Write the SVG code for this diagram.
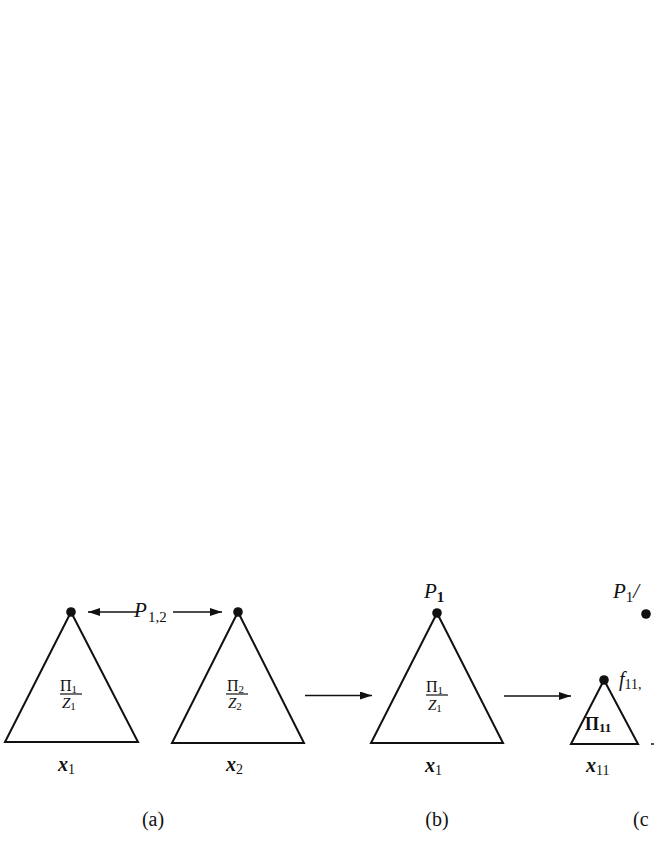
<svg xmlns="http://www.w3.org/2000/svg" width="654" height="846" viewBox="0 0 654 846">
<defs>
<style>
.tri{fill:none;stroke:#111;stroke-width:2;stroke-linejoin:miter}
.dot{fill:#111}
.conn{stroke:#111;stroke-width:1.4;fill:none}
.it{font-family:"Liberation Serif",serif;font-style:italic;fill:#111}
.rm{font-family:"Liberation Serif",serif;fill:#111}
.bi{font-family:"Liberation Serif",serif;font-style:italic;font-weight:bold;fill:#111}
.bd{font-family:"Liberation Serif",serif;font-weight:bold;fill:#111}
.frac{stroke:#111;stroke-width:1.2}
</style>
<marker id="ah" viewBox="0 0 12 8" refX="12" refY="4" markerWidth="12" markerHeight="8" markerUnits="userSpaceOnUse" orient="auto-start-reverse">
<path d="M0,0 L12,4 L0,8 Z" fill="#111"/>
</marker>
</defs>
<rect width="654" height="846" fill="#fff"/>

<g id="connectors">
<line class="conn" x1="138" y1="612" x2="88" y2="612" marker-end="url(#ah)"/>
<line class="conn" x1="173" y1="612" x2="222" y2="612" marker-end="url(#ah)"/>
<line class="conn" x1="305" y1="695.5" x2="372" y2="695.5" stroke-width="1.1" marker-end="url(#ah)"/>
<line class="conn" x1="504" y1="696" x2="571" y2="696" stroke-width="1.1" marker-end="url(#ah)"/>
</g>

<g id="label-p12">
<text class="it" x="134" y="617" font-size="21">P</text>
<text class="rm" x="148" y="622" font-size="15">1,2</text>
</g>

<g id="tree-x1-a">
<polygon class="tri" points="71,612 5,742 138,742"/>
<circle class="dot" cx="71" cy="612" r="4.8"/>
<text class="rm" x="60" y="691" font-size="16">Π<tspan font-size="11" dy="2">1</tspan></text>
<line class="frac" x1="60" y1="694" x2="82" y2="694"/>
<text class="it" x="62" y="708" font-size="15">Z<tspan class="rm" font-style="normal" font-size="11" dy="2">1</tspan></text>
<text class="bi" x="58" y="771" font-size="20">x<tspan class="rm" font-style="normal" font-weight="normal" font-size="14" dy="3">1</tspan></text>
</g>

<g id="tree-x2-a">
<polygon class="tri" points="238,612 172,743 304,743"/>
<circle class="dot" cx="238" cy="612" r="4.8"/>
<text class="rm" x="227" y="691" font-size="16">Π<tspan font-size="11" dy="2">2</tspan></text>
<line class="frac" x1="226" y1="694" x2="248" y2="694"/>
<text class="it" x="228" y="708" font-size="15">Z<tspan class="rm" font-style="normal" font-size="11" dy="2">2</tspan></text>
<text class="bi" x="226" y="771" font-size="20">x<tspan class="rm" font-style="normal" font-weight="normal" font-size="14" dy="3">2</tspan></text>
</g>

<g id="tree-x1-b">
<text class="it" x="424" y="598" font-size="21">P<tspan class="bd" font-style="normal" font-size="15" dy="4">1</tspan></text>
<polygon class="tri" points="437,613 371,743 503,743"/>
<circle class="dot" cx="437" cy="613" r="4.8"/>
<text class="rm" x="426" y="692" font-size="16">Π<tspan font-size="11" dy="2">1</tspan></text>
<line class="frac" x1="426" y1="695" x2="448" y2="695"/>
<text class="it" x="428" y="710" font-size="15">Z<tspan class="rm" font-style="normal" font-size="11" dy="2">1</tspan></text>
<text class="bi" x="425" y="772" font-size="20">x<tspan class="rm" font-style="normal" font-weight="normal" font-size="14" dy="3">1</tspan></text>
</g>

<g id="root-c">
<text class="it" x="613" y="598" font-size="21">P<tspan class="rm" font-style="normal" font-size="15" dy="4">1</tspan><tspan dy="-4">/</tspan></text>
<circle class="dot" cx="646" cy="614" r="4.8"/>
</g>

<g id="tree-x11-c">
<polygon class="tri" points="604,680 571,744 638,744"/>
<circle class="dot" cx="604" cy="680" r="4.8"/>
<text class="it" x="619" y="686" font-size="20">f<tspan class="rm" font-style="normal" font-size="14" dy="3">11,</tspan></text>
<text class="bd" x="585" y="730" font-size="18">Π<tspan font-size="13" dy="2">11</tspan></text>
<text class="bi" x="586" y="772" font-size="20">x<tspan class="rm" font-style="normal" font-weight="normal" font-size="14" dy="3">11</tspan></text>
<line x1="651" y1="744" x2="654" y2="744" stroke="#111" stroke-width="1.5"/>
</g>

<g id="captions">
<text class="rm" x="153" y="826" font-size="20" text-anchor="middle">(a)</text>
<text class="rm" x="437" y="826" font-size="20" text-anchor="middle">(b)</text>
<text class="rm" x="633" y="826" font-size="20">(c</text>
</g>
</svg>
